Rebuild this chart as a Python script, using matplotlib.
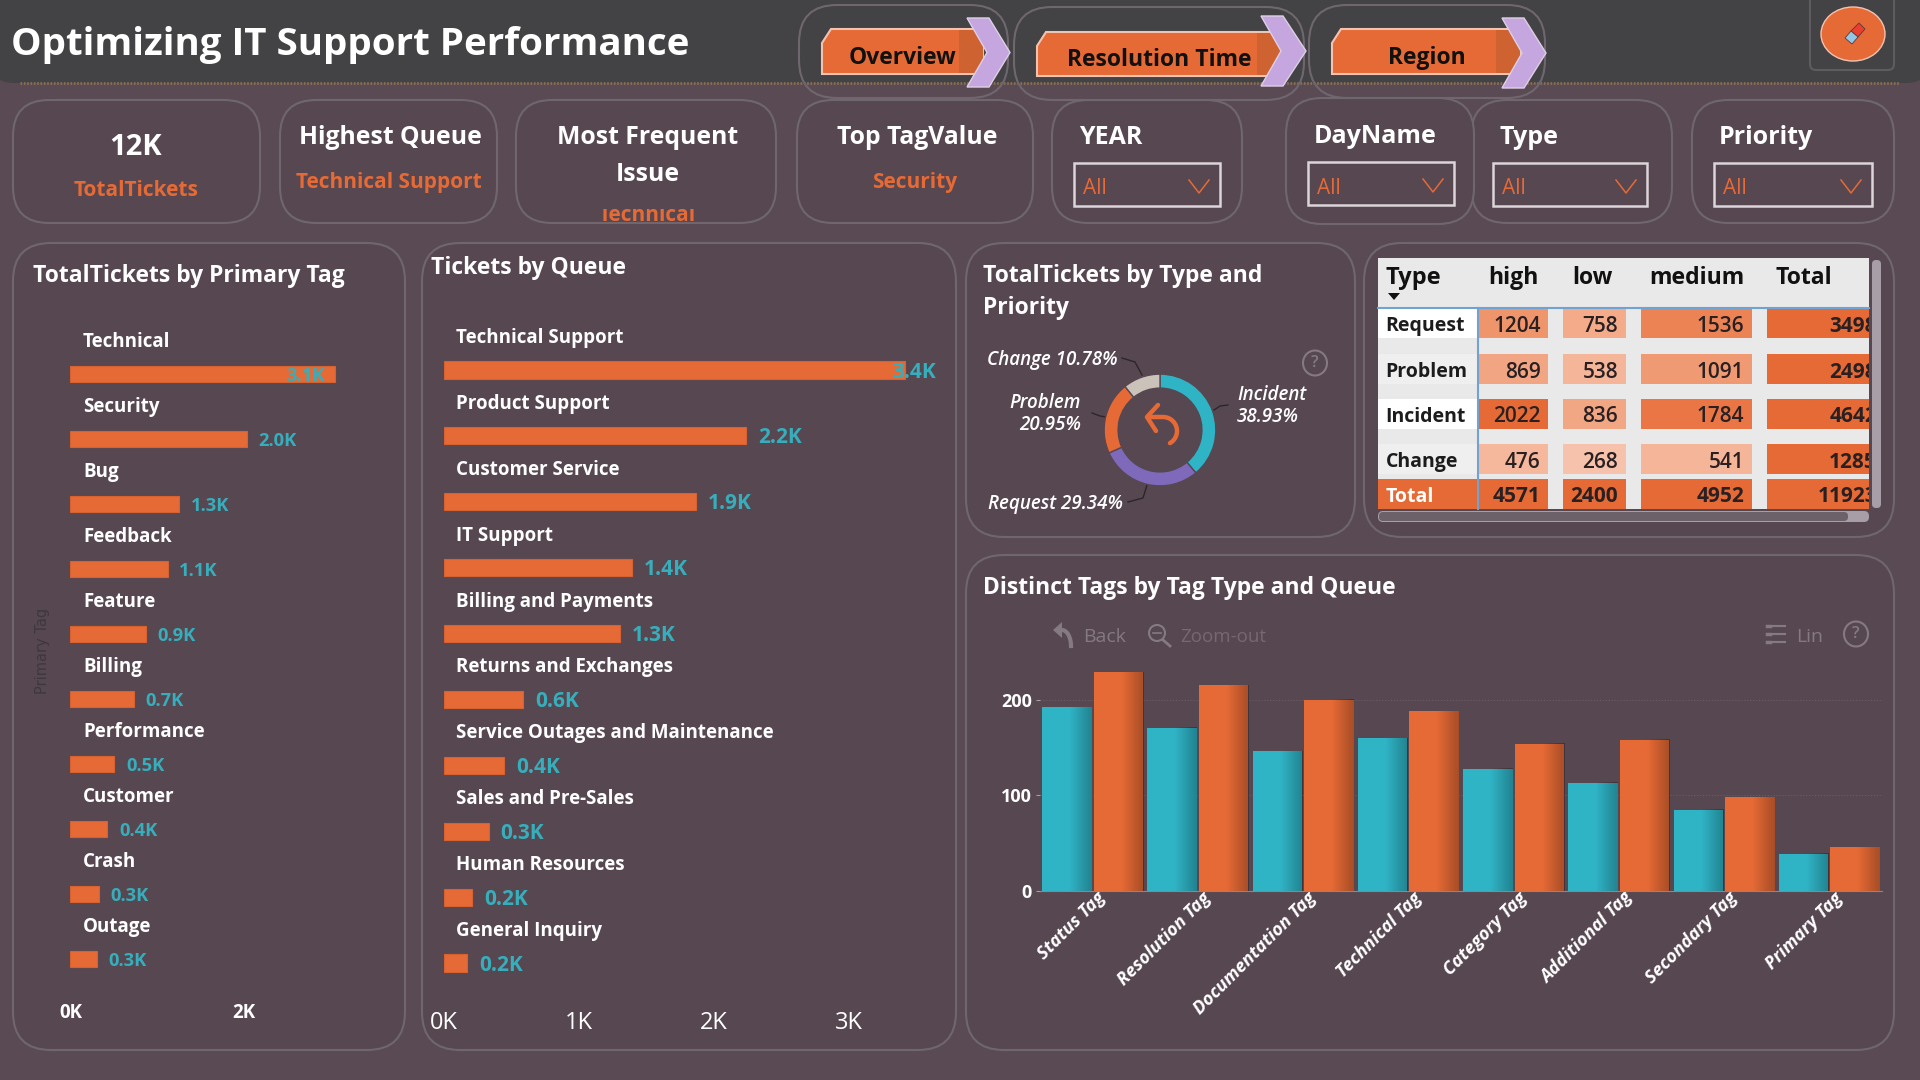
import numpy as np
import matplotlib
matplotlib.use('Agg')
import matplotlib.pyplot as plt
from matplotlib.patches import FancyBboxPatch, Polygon, Rectangle, Circle, Ellipse
from matplotlib.colors import LinearSegmentedColormap, Normalize
from matplotlib.transforms import ScaledTranslation

plt.rcParams['font.family'] = ['Open Sans', 'DejaVu Sans']

# Data
primary_tags = ['Technical', 'Security', 'Bug', 'Feedback', 'Feature', 'Billing',
                'Performance', 'Customer', 'Crash', 'Outage']
primary_vals = [3060, 2037, 1259, 1125, 870, 735, 508, 427, 333, 305]

queues = ['Technical Support', 'Product Support', 'Customer Service', 'IT Support',
          'Billing and Payments', 'Returns and Exchanges', 'Service Outages and Maintenance',
          'Sales and Pre-Sales', 'Human Resources', 'General Inquiry']
queue_vals = [3415, 2237, 1864, 1392, 1305, 585, 444, 331, 207, 170]

donut_names = ['Incident', 'Request', 'Problem', 'Change']
donut_vals = [38.93, 29.34, 20.95, 10.78]

table_cols = ['high', 'low', 'medium', 'Total']
table_rows = ['Request', 'Problem', 'Incident', 'Change', 'Total']
row_high = [1204, 869, 2022, 476, 4571]
row_low = [758, 538, 836, 268, 2400]
row_medium = [1536, 1091, 1784, 541, 4952]
row_total = [3498, 2498, 4642, 1285, 11923]

tag_types = ['Status Tag', 'Resolution Tag', 'Documentation Tag', 'Technical Tag',
             'Category Tag', 'Additional Tag', 'Secondary Tag', 'Primary Tag']
tags_teal = [192, 171, 146, 160, 128, 113, 85, 39]
tags_orange = [229, 215, 200, 188, 154, 158, 98, 46]

# Colours
BG = '#5a4a54'
PANEL = '#574751'
EDGE = '#6f676d'
HEADER = '#434245'
ORANGE = '#e66a35'
TEAL = '#2fb4c6'
LILAC = '#c6a6de'
GREY = '#857a82'

W, H = 1920, 1080
fig = plt.figure(figsize=(19.2, 10.8), dpi=100, facecolor=BG)

# full-figure axes in pixel coordinates for the panels and the report furniture
bg = fig.add_axes([0, 0, 1, 1])
bg.set_xlim(0, W)
bg.set_ylim(H, 0)
bg.axis('off')


def px_axes(x0, y0, x1, y1):
    ax = fig.add_axes([x0 / W, 1 - y1 / H, (x1 - x0) / W, (y1 - y0) / H])
    ax.patch.set_alpha(0)
    return ax


def rbox(x0, y0, x1, y1, r, fc=PANEL, ec=EDGE, lw=1.5, z=1):
    p = FancyBboxPatch((x0, y0), x1 - x0, y1 - y0, boxstyle=f'round,pad=0,rounding_size={r}',
                       fc=fc, ec=ec, lw=lw, zorder=z)
    bg.add_patch(p)
    return p


def txt(x, y, s, size, color='white', weight='semibold', ha='left', va='center', **kw):
    # Open Sans sits a little high with va=center
    return bg.text(x, y + 2.5, s, fontsize=size, color=color, fontweight=weight, ha=ha, va=va, zorder=6, **kw)


def clipped(t, x0, y0, x1, y1):
    t.set_clip_path(Rectangle((x0, y0), x1 - x0, y1 - y0, transform=bg.transData))
    t.set_clip_on(True)


# Header band
rbox(-10, -30, W + 10, 83, 24, fc=HEADER, ec='none')
bg.plot([20, 1900], [83, 83], color='#8a6f55', lw=2, ls=(0, (0.6, 0.6)), zorder=2)
txt(11, 43, 'Optimizing IT Support Performance', 27.7, weight='bold')

# Navigation buttons
nav = [('Overview', 799, 1008, 5, 98, 822, 983, 29, 74, 967, 1010, 18, 87, 902),
       ('Resolution Time', 1014, 1304, 7, 100, 1037, 1281, 32, 76, 1261, 1306, 16, 86, 1159),
       ('Region', 1309, 1545, 5, 98, 1332, 1520, 29, 74, 1502, 1546, 18, 88, 1427)]
for name, ox0, ox1, oy0, oy1, bx0, bx1, by0, by1, cx0, tip, cy0, cy1, tx in nav:
    rbox(ox0, oy0, ox1, oy1, 38, fc='none', ec=EDGE, z=2)
    bg.add_patch(Polygon([(bx0, by0 + 14), (bx0 + 9, by0), (bx1, by0), (bx1, by1), (bx0, by1)],
                         fc=ORANGE, ec='#f3c3b2', lw=1.5, zorder=3))
    bg.add_patch(Rectangle((bx1 - 24, by0 + 1), 24, by1 - by0 - 2, fc='#cf6231', ec='none', zorder=3))
    cm_ = (cy0 + cy1) / 2
    bg.add_patch(Polygon([(cx0, cy0), (cx0 + 22, cy0), (tip, cm_), (cx0 + 22, cy1), (cx0, cy1), (cx0 + 20, cm_)],
                         fc=LILAC, ec='#ddd0e6', lw=1, zorder=4))
    txt(tx, (by0 + by1) / 2 + 4, name, 16.5, color='#111111', weight='bold', ha='center')

# Eraser button
rbox(1810, -20, 1894, 70, 6, fc='none', ec='#5d5c60', z=2)
bg.add_patch(Ellipse((1853, 34), 64, 54, fc=ORANGE, ec='#f3c3b2', lw=1, zorder=3))
bg.add_patch(Polygon([(1851, 31), (1859, 23), (1865, 29), (1858, 37)], fc='#e8402f', ec='#5a3a3a', lw=0.6, zorder=4))
bg.add_patch(Polygon([(1851, 31), (1858, 37), (1852, 44), (1845, 38)], fc='#8fc8ea', ec='#5a3a3a', lw=0.6, zorder=4))

# KPI cards
for x0, x1 in [(13, 260), (280, 497), (516, 776), (797, 1033), (1052, 1242), (1471, 1672), (1692, 1894)]:
    rbox(x0, 100, x1, 223, 36, z=1)
rbox(1286, 98, 1474, 224, 36, z=1)

txt(136, 145, '12K', 21, ha='center', weight='bold')
txt(136, 188, 'TotalTickets', 15, color=ORANGE, ha='center', weight='bold')
txt(390, 135, 'Highest Queue', 17.8, ha='center', weight='bold')
txt(389, 180, 'Technical Support', 15, color=ORANGE, ha='center', weight='bold')
txt(648, 135, 'Most Frequent', 17.8, ha='center', weight='bold')
txt(648, 172, 'Issue', 17.8, ha='center', weight='bold')
clipped(txt(647, 213, 'Technical', 15, color=ORANGE, ha='center', weight='bold'), 560, 209, 740, 221)
txt(917, 135, 'Top TagValue', 17.8, ha='center', weight='bold')
txt(915, 180, 'Security', 15, color=ORANGE, ha='center', weight='bold')

# Slicers
slicers = [('YEAR', 1079, 135, 1074, 1220, 163, 206), ('DayName', 1314, 134, 1308, 1454, 162, 205),
           ('Type', 1499, 135, 1493, 1647, 163, 206), ('Priority', 1719, 135, 1714, 1872, 163, 206)]
for name, tx, ty, x0, x1, y0, y1 in slicers:
    txt(tx, ty, name, 18, weight='bold')
    bg.add_patch(Rectangle((x0, y0), x1 - x0, y1 - y0, fc='none', ec='#dcd5da', lw=1.8, zorder=3))
    txt(x0 + 9, (y0 + y1) / 2 + 2, 'All', 15, color=ORANGE, weight='normal')
    mid = x1 - 21
    bg.plot([mid - 10, mid, mid + 10], [y0 + 17, y0 + 30, y0 + 17], color=ORANGE, lw=1.1, zorder=4)

# Main panels
rbox(13, 243, 405, 1050, 38)
rbox(422, 243, 956, 1050, 38)
rbox(966, 243, 1355, 537, 38)
rbox(1364, 243, 1894, 537, 38)
rbox(966, 555, 1894, 1050, 38)

txt(33, 273, 'TotalTickets by Primary Tag', 16.5, weight='bold')
txt(431, 266, 'Tickets by Queue', 16.5, weight='bold')
txt(983, 273, 'TotalTickets by Type and', 16.5, weight='bold')
txt(983, 306, 'Priority', 16.5, weight='bold')
txt(983, 586, 'Distinct Tags by Tag Type and Queue', 16.5, weight='bold')


def hbars(ax, names, vals, xmax, label_size, val_size, gap, label_limit, name_dx, name_dy):
    pos = np.arange(len(names))
    ax.barh(pos, vals, height=0.26, color=ORANGE, edgecolor='#d8622f', lw=0.8)
    ax.set_xlim(0, xmax)
    ax.set_ylim(len(names) - 0.5, -0.5)
    ax.set_yticks([])
    for s in ax.spines.values():
        s.set_visible(False)
    for i, v in enumerate(vals):
        ax.annotate(names[i], (0, i), xytext=(name_dx * 0.72, name_dy * 0.72), textcoords='offset points',
                    fontsize=label_size, color='white', fontweight='bold', va='center')
        ax.annotate(f'{v / 1000:.1f}K', (min(v, label_limit), i),
                    xytext=(gap * 0.72 if v < label_limit else 0, -1.5), textcoords='offset points',
                    fontsize=val_size, color='#36aebc', fontweight='bold', va='center', annotation_clip=False)


# TotalTickets by Primary Tag (0.0866 px per ticket)
ax_a = px_axes(70.4, 341.5, 70.4 + 3500 * 0.0866, 991.5)
hbars(ax_a, primary_tags, primary_vals, 3500, 13.5, 13.2, 11.5, 2497, 12.6, 32)
ax_a.set_xticks([0, 2000])
ax_a.set_xticklabels(['0K', '2K'], fontsize=13.5, color='white', fontweight='bold')
ax_a.tick_params(axis='x', length=0, pad=8)
txt(43, 648, 'Primary Tag', 10.5, color='#3e383c', weight='normal', ha='center', rotation=90, family='DejaVu Sans')

# Tickets by Queue (0.135 px per ticket)
ax_b = px_axes(444, 337, 444 + 3600 * 0.135, 996)
hbars(ax_b, queues, queue_vals, 3600, 13.5, 15, 12, 3319, 12, 32)
ax_b.set_xticks([0, 1000, 2000, 3000])
ax_b.set_xticklabels(['0K', '1K', '2K', '3K'], fontsize=17, color='white', fontweight='normal')
ax_b.tick_params(axis='x', length=0, pad=11)

# Donut
ax_c = px_axes(1103, 373, 1217, 487)
ax_c.pie(donut_vals, colors=[TEAL, '#7f69bb', ORANGE, '#cbc2ba'], startangle=90, counterclock=False,
         radius=1, wedgeprops={'width': 0.25, 'edgecolor': PANEL, 'linewidth': 1.0})
ax_c.set_xlim(-1.02, 1.02)
ax_c.set_ylim(-1.02, 1.02)

donut_size = 13.5
txt(1052, 358, f'{donut_names[3]} {donut_vals[3]:.2f}%', donut_size, style='italic', ha='center')
txt(1081, 401, donut_names[2], donut_size, style='italic', ha='right')
txt(1081, 423, f'{donut_vals[2]:.2f}%', donut_size, style='italic', ha='right')
txt(1237, 392, donut_names[0], donut_size, style='italic')
txt(1237, 414, f'{donut_vals[0]:.2f}%', donut_size, style='italic')
txt(1055, 501, f'{donut_names[1]} {donut_vals[1]:.2f}%', donut_size, style='italic', ha='center')
for xs, ys in [([1122, 1135, 1142], [358, 362, 375]), ([1228, 1220, 1214], [405, 406, 410]),
               ([1092, 1100, 1106], [413, 416, 417]), ([1128, 1143, 1147], [502, 498, 485])]:
    bg.plot(xs, ys, color='#2d2629', lw=1, zorder=3)

# Back arrow in the middle of the donut
theta = np.linspace(np.pi / 2, -np.pi / 3, 30)
bg.plot(np.r_[1148, 1163 + 14 * np.cos(theta)], np.r_[417, 431 - 14 * np.sin(theta)],
        color=ORANGE, lw=3.2, zorder=5, solid_capstyle='round')
bg.plot([1158, 1147, 1156], [405, 417, 431], color=ORANGE, lw=3.2, zorder=5, solid_capstyle='round')

for cx, cy in [(1315, 363), (1856, 634)]:
    bg.add_patch(Ellipse((cx, cy), 24, 25, fc='none', ec=GREY, lw=1.5, zorder=3))
    txt(cx, cy - 2.5, '?', 12, color=GREY, ha='center')

# Table
bg.add_patch(Rectangle((1378, 258), 491, 251, fc='#e9e9e9', ec='none', zorder=2))
col_x = [(1479, 1548), (1563, 1626), (1641, 1752), (1767, 1869)]
col_right = [1540.5, 1618, 1744, 1877]
head_x = [1488, 1572, 1649, 1776]
row_y = [(309, 338), (354, 384), (399, 429), (444, 474), (479, 509)]
cmap = LinearSegmentedColormap.from_list('heat', ['#f7c2ab', '#f0986f', ORANGE])
norm = Normalize(268, 2022)
columns = [row_high, row_low, row_medium, row_total]

txt(1385.6, 276, 'Type', 17, color='#111111', weight='bold')
bg.add_patch(Polygon([(1388, 293), (1400, 293), (1394, 300)], fc='#111111', ec='none', zorder=5))
for name, hx in zip(table_cols, head_x):
    txt(hx, 276, name, 16.6, color='#111111', weight='bold')

for r, name in enumerate(table_rows):
    y0, y1 = row_y[r]
    yc = (y0 + y1) / 2 + 0.5
    if name == 'Total':
        bg.add_patch(Rectangle((1378, y0), 100, y1 - y0, fc=ORANGE, ec='none', zorder=3))
        txt(1385.6, yc - 0.5, name, 14, weight='bold')
    else:
        fc = 'white' if name in ('Request', 'Incident') else '#efefef'
        bg.add_patch(Rectangle((1378, y0), 100, y1 - y0, fc=fc, ec='none', zorder=3))
        txt(1385.6, yc, name, 14, color='#1c1c1c', weight='bold')
    for c, col in enumerate(columns):
        v = col[r]
        fc = ORANGE if (name == 'Total' or c == 3) else cmap(norm(v))
        x0, x1 = col_x[c]
        bg.add_patch(Rectangle((x0, y0), x1 - x0, y1 - y0, fc=fc, ec='none', zorder=3))
        t = txt(col_right[c], yc - (0.5 if name == 'Total' else 0), str(v), 15, color='#2a2022', ha='right',
                weight='bold' if (name == 'Total' or c == 3) else 'semibold')
        clipped(t, 1378, 258, 1869, 509)
bg.plot([1378, 1869], [307.5, 307.5], color='#6ea3d4', lw=1.5, zorder=4)
bg.plot([1478, 1478], [307.5, 509], color='#6ea3d4', lw=1.5, zorder=4)

# Table scrollbars
rbox(1872, 260, 1881, 508, 4, fc='#a79ea8', ec='none', z=3)
rbox(1378, 511, 1869, 522, 5, fc='#a79ea8', ec='none', z=3)
rbox(1379, 512, 1848, 521, 4, fc='#6c6069', ec='none', z=4)

# Distinct Tags toolbar
back_t = np.linspace(0, np.pi / 2, 12)
bg.plot(1062 + 9 * np.sin(back_t), 630 + 16 * (1 - np.cos(back_t)), color=GREY, lw=3, zorder=3)
bg.add_patch(Polygon([(1053, 630), (1062, 622), (1062, 638)], fc=GREY, ec='none', zorder=3))
txt(1083, 634, 'Back', 14, color=GREY, weight='normal')
bg.add_patch(Circle((1157, 633), 8, fc='none', ec=GREY, lw=1.5, zorder=3))
bg.plot([1163, 1170], [640, 646], color=GREY, lw=2, zorder=3)
bg.plot([1153, 1161], [633, 633], color=GREY, lw=1.2, zorder=3)
txt(1180, 634, 'Zoom-out', 13.5, color='#75686f', weight='normal')
for y in [626, 634, 642]:
    bg.plot([1767, 1770], [y, y], color=GREY, lw=2.5, zorder=3)
    bg.plot([1773, 1785], [y, y], color=GREY, lw=1.5, zorder=3)
txt(1796, 634, 'Lin', 14, color=GREY, weight='normal')

# Distinct Tags by Tag Type and Queue
ax_e = px_axes(1040, 652, 1882, 891)
pos = np.arange(len(tag_types))
bw = 0.47
bars_t = ax_e.bar(pos - 0.245, tags_teal, bw, color=TEAL, zorder=2)
bars_o = ax_e.bar(pos + 0.245, tags_orange, bw, color=ORANGE, zorder=2)
shade = np.zeros((1, 40, 4))
shade[0, :, 3] = np.clip((np.linspace(0, 1, 40) - 0.55) * 0.6, 0, None)
for b in list(bars_t) + list(bars_o):
    ax_e.imshow(shade, extent=[b.get_x(), b.get_x() + b.get_width(), 0, b.get_height()],
                aspect='auto', zorder=3)
ax_e.set_xlim(-0.5, 7.5)
ax_e.set_ylim(0, 250)
ax_e.set_yticks([0, 100, 200])
ax_e.set_yticklabels(['0', '100', '200'], fontsize=13, color='white', fontweight='bold')
ax_e.tick_params(axis='y', length=3, color='#a89ea4', pad=3)
ax_e.yaxis.grid(True, color='#6b5e66', ls=':', lw=0.8)
ax_e.set_axisbelow(True)
ax_e.set_xticks(pos)
ax_e.set_xticklabels(tag_types, fontsize=13, color='white', fontweight='bold', style='italic',
                     rotation=45, ha='right', rotation_mode='anchor')
ax_e.tick_params(axis='x', length=0, pad=7)
nudge = ScaledTranslation(4 / 100, 12 / 100, fig.dpi_scale_trans)
for lab in ax_e.get_xticklabels():
    lab.set_transform(lab.get_transform() + nudge)
for s in ['top', 'right', 'left']:
    ax_e.spines[s].set_visible(False)
ax_e.spines['bottom'].set_color('#8f858c')

fig.savefig('out.png', dpi=100, facecolor=BG)
